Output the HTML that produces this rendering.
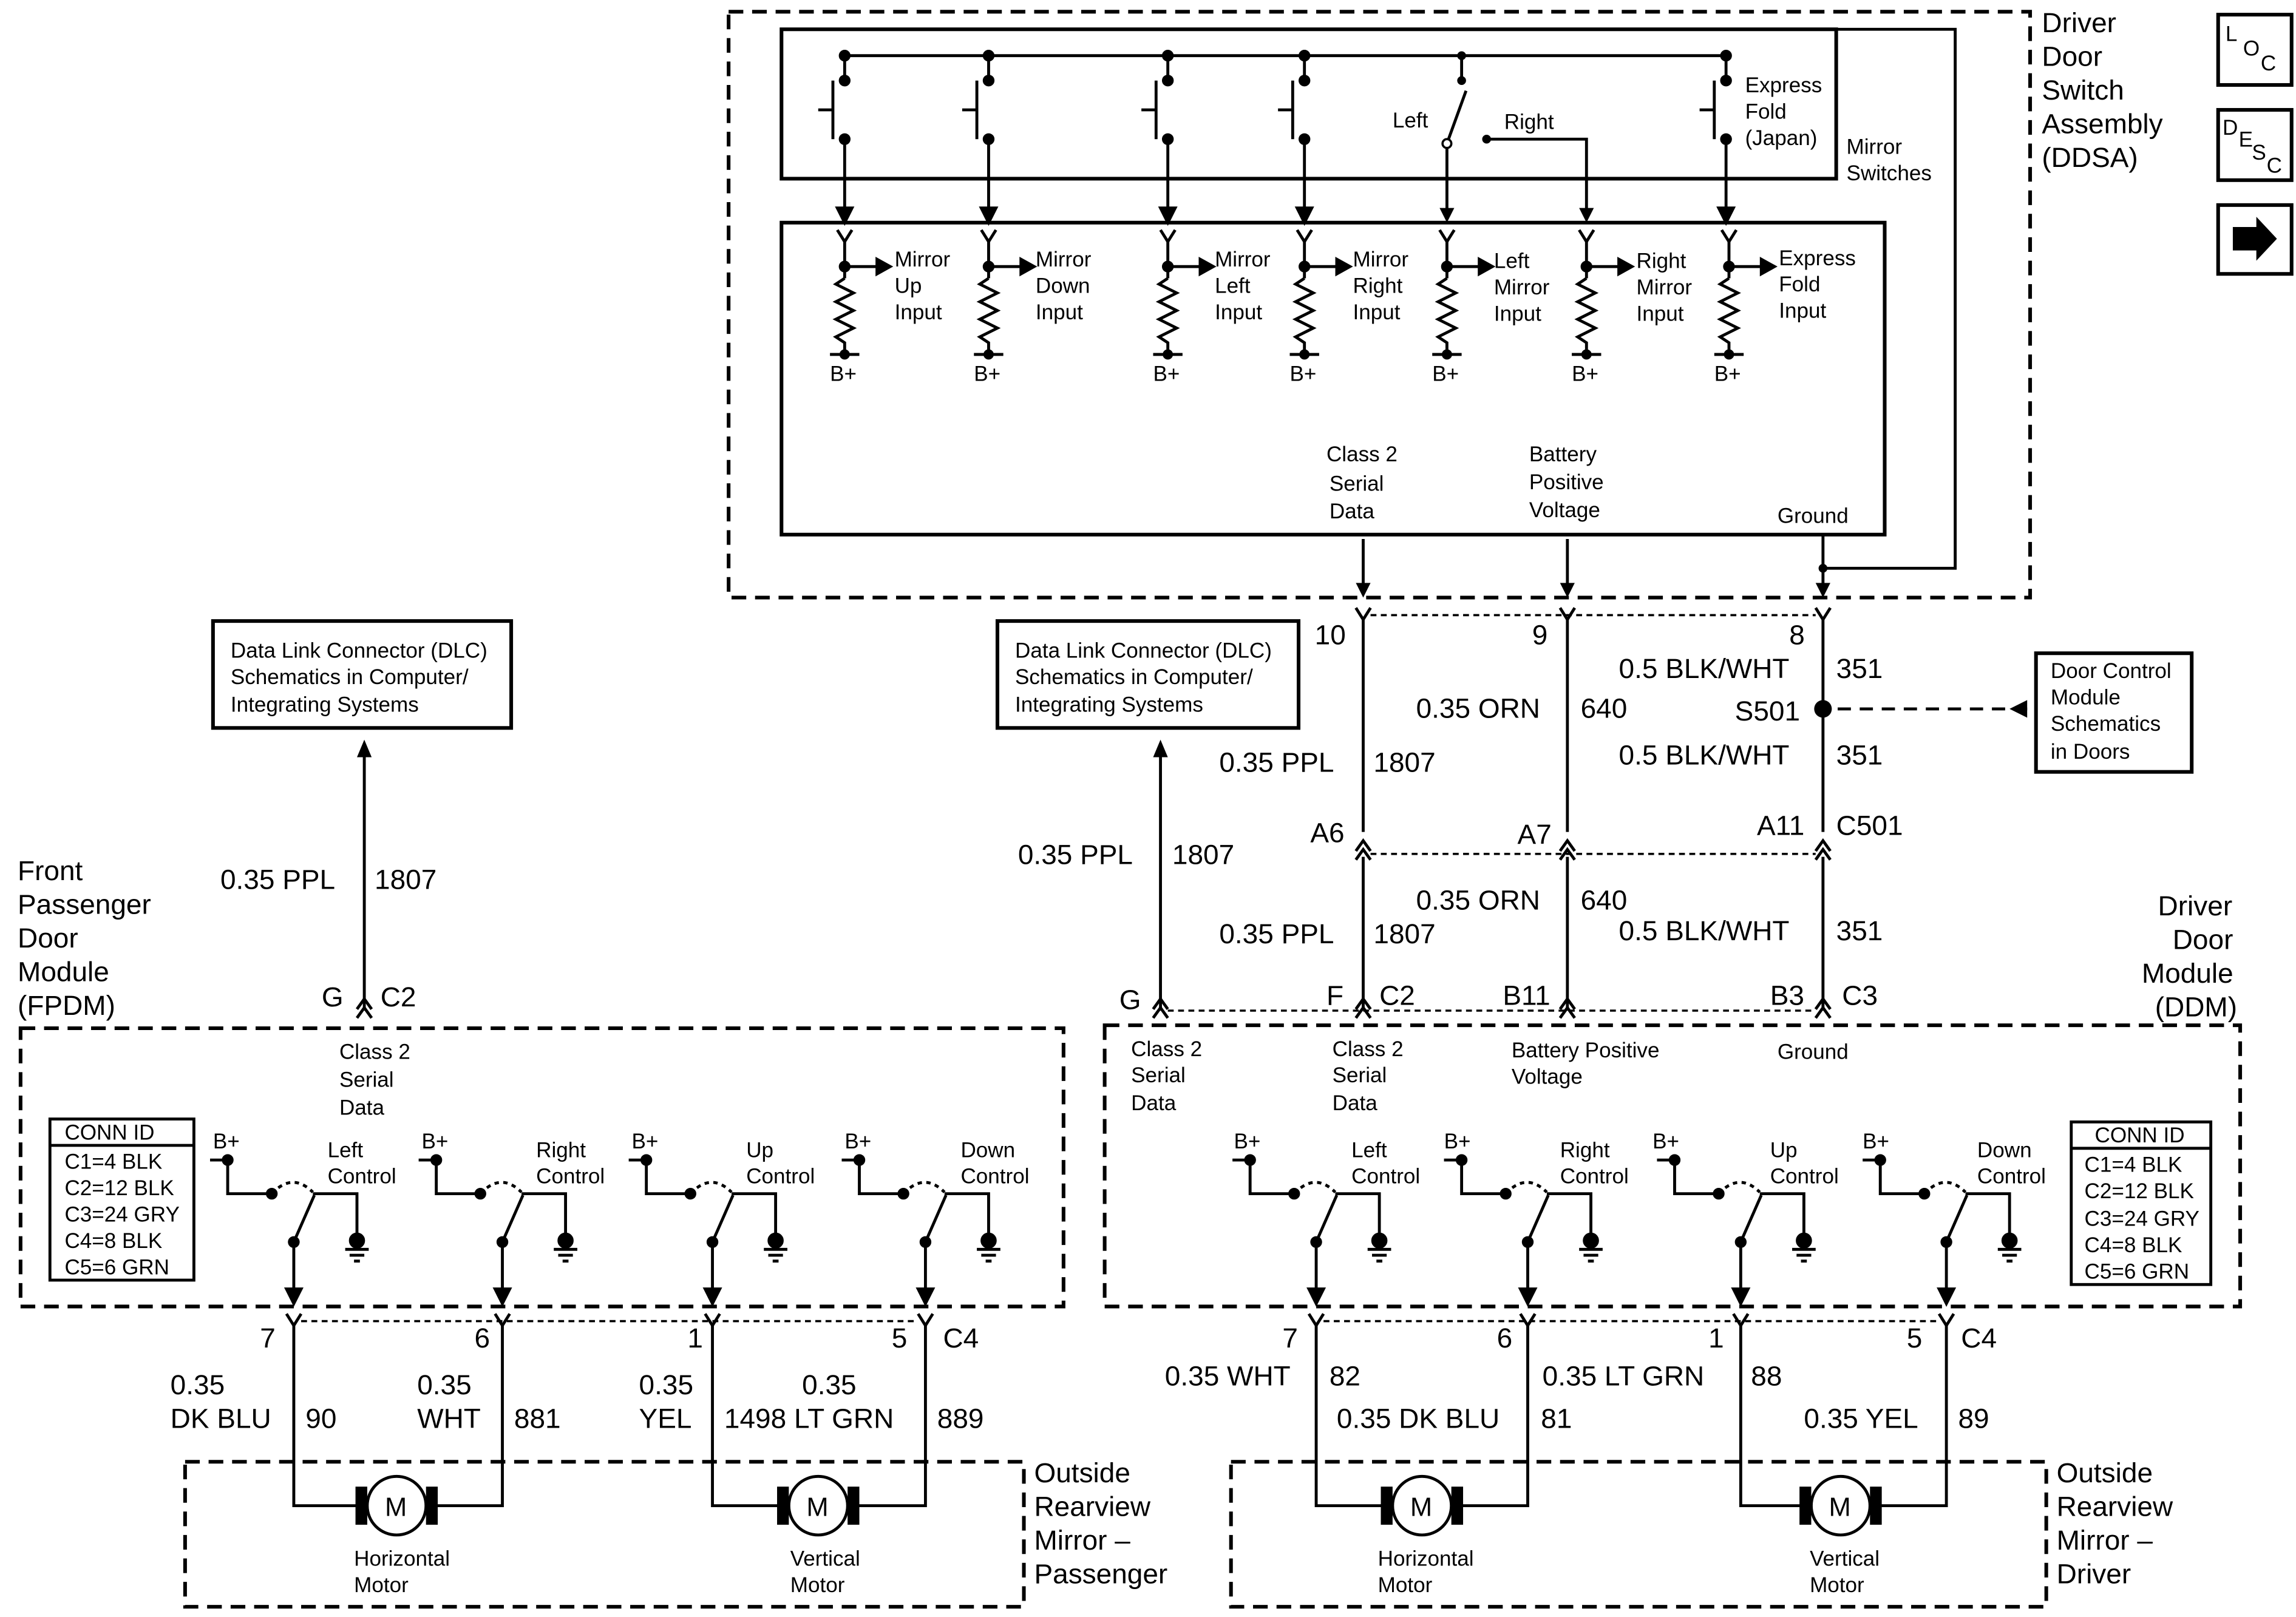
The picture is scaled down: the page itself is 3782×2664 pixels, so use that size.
<!DOCTYPE html>
<html><head><meta charset="utf-8"><style>
html,body{margin:0;padding:0;background:#fff}
svg{display:block}
text{font-family:"Liberation Sans",Arial,sans-serif;fill:#000}
.b{font-size:19px}.s{font-size:14.5px}
</style></head><body>
<svg width="3782" height="2664" viewBox="0 0 1563 1104" preserveAspectRatio="none" xmlns="http://www.w3.org/2000/svg">
<defs>
<g id="res" stroke="#000" stroke-width="2" fill="none">
<polyline points="-5,157 0,165 5,157"/>
<line x1="0" y1="165" x2="0" y2="190"/>
<circle cx="0" cy="182" r="3" fill="#000"/>
<line x1="0" y1="182" x2="24" y2="182"/>
<polygon points="22,177 31,182 22,187" fill="#000"/>
<polyline points="0,190 -6,194 6,200 -6,206 6,212 -6,218 6,224 -6,230 0,234 0,242"/>
<line x1="-10" y1="242" x2="10" y2="242"/>
<circle cx="0" cy="242" r="2.5" fill="#000"/>
</g>
<g id="ctl" stroke="#000" stroke-width="2" fill="none">
<circle cx="0" cy="0" r="3" fill="#000"/>
<polyline points="-12,0 0,0 0,23 30,23"/>
<circle cx="30" cy="23" r="3" fill="#000"/>
<path d="M30,23 Q44,8 58,22" stroke-dasharray="3,3"/>
<line x1="45" y1="56" x2="59" y2="24"/>
<circle cx="45" cy="56" r="3" fill="#000"/>
<polyline points="58,23 88,23 88,55"/>
<circle cx="88" cy="55" r="4.5" fill="#000"/>
<line x1="80" y1="61" x2="96" y2="61"/>
<line x1="83" y1="65" x2="93" y2="65"/>
<line x1="86" y1="69" x2="90" y2="69"/>
<line x1="45" y1="56" x2="45" y2="92"/>
<polygon points="40,88 45,98 50,88" fill="#000"/>
</g>
<g id="sw" stroke="#000" stroke-width="2" fill="none">
<line x1="0" y1="38" x2="0" y2="55"/>
<circle cx="0" cy="38" r="3" fill="#000"/>
<circle cx="0" cy="55" r="3" fill="#000"/>
<line x1="-8" y1="55" x2="-8" y2="95"/>
<line x1="-8" y1="75" x2="-18" y2="75"/>
<circle cx="0" cy="95" r="3" fill="#000"/>
<line x1="0" y1="95" x2="0" y2="146"/>
<polygon points="-5,142 0,152 5,142" fill="#000"/>
</g>
<g id="mot" stroke="#000" stroke-width="2">
<rect x="-27" y="-12" width="6" height="24" fill="#000"/>
<rect x="21" y="-12" width="6" height="24" fill="#000"/>
<circle cx="0" cy="0" r="20" fill="#fff"/>
</g>
<g id="yc" stroke="#000" stroke-width="2" fill="none"><polyline points="-5,-5 0,3 5,-5"/></g>
<g id="ch" stroke="#000" stroke-width="2" fill="none"><polyline points="-5,4 0,-3 5,4"/><polyline points="-5,10 0,3 5,10"/></g>
</defs>
<g stroke="#000" stroke-width="2.5" fill="none">
<rect x="496" y="8" width="886" height="400" stroke-dasharray="10,6"/>
<rect x="532" y="20" width="718" height="102"/>
<rect x="532" y="152" width="751" height="213"/>
<polyline points="1241,388 1331,388 1331,20 1250,20" stroke-width="2"/>
<line x1="575" y1="38" x2="1175" y2="38" stroke-width="2"/>
<rect x="145" y="424" width="203" height="73"/>
<rect x="679" y="424" width="205" height="73"/>
<rect x="1386" y="446" width="106" height="81"/>
<rect x="14" y="702" width="710" height="190" stroke-dasharray="10,6"/>
<rect x="752" y="700" width="773" height="192" stroke-dasharray="10,6"/>
<rect x="126" y="998" width="571" height="99" stroke-dasharray="10,6"/>
<rect x="838" y="998" width="555" height="99" stroke-dasharray="10,6"/>
<rect x="34" y="764" width="98" height="110" stroke-width="2"/>
<line x1="34" y1="782" x2="132" y2="782" stroke-width="2"/>
<rect x="1410" y="766" width="95" height="111" stroke-width="2"/>
<line x1="1410" y1="784" x2="1505" y2="784" stroke-width="2"/>
<rect x="1510" y="10" width="50" height="48"/>
<rect x="1510" y="75" width="50" height="48"/>
<rect x="1510" y="140" width="50" height="47"/>
</g>
<polygon points="1520,155 1536,155 1536,148 1550,163 1536,178 1536,171 1520,171" fill="#000"/>
<text class="s" x="1515" y="28">L</text><text class="s" x="1527" y="38">O</text><text class="s" x="1539" y="48">C</text>
<text class="s" x="1513" y="92">D</text><text class="s" x="1524" y="100">E</text><text class="s" x="1533" y="109">S</text><text class="s" x="1543" y="118">C</text>
<!-- switches -->
<use href="#sw" x="575"/><use href="#sw" x="673"/><use href="#sw" x="795"/><use href="#sw" x="888"/><use href="#sw" x="1175"/>
<g stroke="#000" stroke-width="2" fill="none">
<line x1="995" y1="38" x2="995" y2="55"/>
<line x1="985" y1="98" x2="998" y2="62"/>
<polyline points="1012,95 1080,95 1080,146"/>
<line x1="985" y1="98" x2="985" y2="146"/>
<line x1="928" y1="368" x2="928" y2="402"/><line x1="1067" y1="368" x2="1067" y2="402"/><line x1="1241" y1="365" x2="1241" y2="402"/>
<line x1="928" y1="423" x2="928" y2="568"/><line x1="1067" y1="423" x2="1067" y2="568"/><line x1="1241" y1="423" x2="1241" y2="568"/>
<line x1="928" y1="585" x2="928" y2="690"/><line x1="1067" y1="585" x2="1067" y2="690"/><line x1="1241" y1="585" x2="1241" y2="690"/>
<line x1="933" y1="420" x2="1236" y2="420" stroke-dasharray="4,3" stroke-width="1.5"/>
<line x1="933" y1="583" x2="1236" y2="583" stroke-dasharray="4,3" stroke-width="1.5"/>
<line x1="795" y1="690" x2="1236" y2="690" stroke-dasharray="4,3" stroke-width="1.5"/>
<line x1="1380" y1="484" x2="1250" y2="484" stroke-dasharray="9,6"/>
<line x1="248" y1="515" x2="248" y2="690"/><line x1="790" y1="515" x2="790" y2="690"/>
<line x1="205" y1="902" x2="625" y2="902" stroke-dasharray="4,3" stroke-width="1.5"/>
<line x1="901" y1="902" x2="1320" y2="902" stroke-dasharray="4,3" stroke-width="1.5"/>
<polyline points="200,905 200,1028 248,1028"/><polyline points="342,905 342,1028 292,1028"/>
<polyline points="485,905 485,1028 535,1028"/><polyline points="630,905 630,1028 580,1028"/>
<polyline points="896,905 896,1028 946,1028"/><polyline points="1040,905 1040,1028 990,1028"/>
<polyline points="1185,905 1185,1028 1231,1028"/><polyline points="1325,905 1325,1028 1275,1028"/>
</g>
<circle cx="995" cy="38" r="3"/><circle cx="995" cy="55" r="3"/><circle cx="985" cy="98" r="3" fill="#fff" stroke="#000" stroke-width="1.5"/><circle cx="1012" cy="95" r="3"/>
<polygon points="980,142 985,152 990,142"/><polygon points="1075,142 1080,152 1085,142"/>
<polygon points="923,398 928,408 933,398"/><polygon points="1062,398 1067,408 1072,398"/><polygon points="1236,398 1241,408 1246,398"/>
<circle cx="1241" cy="388" r="3"/><circle cx="1241" cy="484" r="6"/>
<polygon points="1380,478 1368,484 1380,490"/>
<polygon points="243,517 248,505 253,517"/><polygon points="785,517 790,505 795,517"/>
<use href="#yc" x="928" y="420"/><use href="#yc" x="1067" y="420"/><use href="#yc" x="1241" y="420"/>
<use href="#ch" x="928" y="577"/><use href="#ch" x="1067" y="577"/><use href="#ch" x="1241" y="577"/>
<use href="#ch" x="248" y="685"/><use href="#ch" x="790" y="685"/><use href="#ch" x="928" y="685"/><use href="#ch" x="1067" y="685"/><use href="#ch" x="1241" y="685"/>
<use href="#yc" x="200" y="902"/><use href="#yc" x="342" y="902"/><use href="#yc" x="485" y="902"/><use href="#yc" x="630" y="902"/>
<use href="#yc" x="896" y="902"/><use href="#yc" x="1040" y="902"/><use href="#yc" x="1185" y="902"/><use href="#yc" x="1325" y="902"/>
<!-- resistors -->
<use href="#res" x="575"/><use href="#res" x="673"/><use href="#res" x="795"/><use href="#res" x="888"/><use href="#res" x="985"/><use href="#res" x="1080"/><use href="#res" x="1177"/>
<g class="s">
<text x="565" y="260">B+</text><text x="663" y="260">B+</text><text x="785" y="260">B+</text><text x="878" y="260">B+</text><text x="975" y="260">B+</text><text x="1070" y="260">B+</text><text x="1167" y="260">B+</text>
<text x="609" y="182">Mirror</text><text x="609" y="200">Up</text><text x="609" y="218">Input</text>
<text x="705" y="182">Mirror</text><text x="705" y="200">Down</text><text x="705" y="218">Input</text>
<text x="827" y="182">Mirror</text><text x="827" y="200">Left</text><text x="827" y="218">Input</text>
<text x="921" y="182">Mirror</text><text x="921" y="200">Right</text><text x="921" y="218">Input</text>
<text x="1017" y="183">Left</text><text x="1017" y="201">Mirror</text><text x="1017" y="219">Input</text>
<text x="1114" y="183">Right</text><text x="1114" y="201">Mirror</text><text x="1114" y="219">Input</text>
<text x="1211" y="181">Express</text><text x="1211" y="199">Fold</text><text x="1211" y="217">Input</text>
<text x="1188" y="63">Express</text><text x="1188" y="81">Fold</text><text x="1188" y="99">(Japan)</text>
<text x="948" y="87">Left</text><text x="1024" y="88">Right</text>
<text x="1257" y="105">Mirror</text><text x="1257" y="123">Switches</text>
<text x="903" y="315">Class 2</text><text x="905" y="335">Serial</text><text x="905" y="354">Data</text>
<text x="1041" y="315">Battery</text><text x="1041" y="334">Positive</text><text x="1041" y="353">Voltage</text>
<text x="1210" y="357">Ground</text>
<text x="157" y="449">Data Link Connector (DLC)</text><text x="157" y="467">Schematics in Computer/</text><text x="157" y="486">Integrating Systems</text>
<text x="691" y="449">Data Link Connector (DLC)</text><text x="691" y="467">Schematics in Computer/</text><text x="691" y="486">Integrating Systems</text>
<text x="1396" y="463">Door Control</text><text x="1396" y="481">Module</text><text x="1396" y="499">Schematics</text><text x="1396" y="518">in Doors</text>
<text x="231" y="723">Class 2</text><text x="231" y="742">Serial</text><text x="231" y="761">Data</text>
<text x="770" y="721">Class 2</text><text x="770" y="739">Serial</text><text x="770" y="758">Data</text>
<text x="907" y="721">Class 2</text><text x="907" y="739">Serial</text><text x="907" y="758">Data</text>
<text x="1029" y="722">Battery Positive</text><text x="1029" y="740">Voltage</text>
<text x="1210" y="723">Ground</text>
<text x="44" y="778">CONN ID</text>
<text x="44" y="798">C1=4 BLK</text><text x="44" y="816">C2=12 BLK</text><text x="44" y="834">C3=24 GRY</text><text x="44" y="852">C4=8 BLK</text><text x="44" y="870">C5=6 GRN</text>
<text x="1426" y="780">CONN ID</text>
<text x="1419" y="800">C1=4 BLK</text><text x="1419" y="818">C2=12 BLK</text><text x="1419" y="837">C3=24 GRY</text><text x="1419" y="855">C4=8 BLK</text><text x="1419" y="873">C5=6 GRN</text>
<text x="145" y="784">B+</text><text x="287" y="784">B+</text><text x="430" y="784">B+</text><text x="575" y="784">B+</text>
<text x="840" y="784">B+</text><text x="983" y="784">B+</text><text x="1125" y="784">B+</text><text x="1268" y="784">B+</text>
<text x="223" y="790">Left</text><text x="223" y="808">Control</text>
<text x="365" y="790">Right</text><text x="365" y="808">Control</text>
<text x="508" y="790">Up</text><text x="508" y="808">Control</text>
<text x="654" y="790">Down</text><text x="654" y="808">Control</text>
<text x="920" y="790">Left</text><text x="920" y="808">Control</text>
<text x="1062" y="790">Right</text><text x="1062" y="808">Control</text>
<text x="1205" y="790">Up</text><text x="1205" y="808">Control</text>
<text x="1346" y="790">Down</text><text x="1346" y="808">Control</text>
<text x="241" y="1069">Horizontal</text><text x="241" y="1087">Motor</text>
<text x="538" y="1069">Vertical</text><text x="538" y="1087">Motor</text>
<text x="938" y="1069">Horizontal</text><text x="938" y="1087">Motor</text>
<text x="1232" y="1069">Vertical</text><text x="1232" y="1087">Motor</text>
</g>
<use href="#ctl" x="155" y="792"/><use href="#ctl" x="297" y="792"/><use href="#ctl" x="440" y="792"/><use href="#ctl" x="585" y="792"/>
<use href="#ctl" x="851" y="792"/><use href="#ctl" x="995" y="792"/><use href="#ctl" x="1140" y="792"/><use href="#ctl" x="1280" y="792"/>
<use href="#mot" x="270" y="1028"/><use href="#mot" x="557" y="1028"/><use href="#mot" x="968" y="1028"/><use href="#mot" x="1253" y="1028"/>
<g class="b" style="font-size:18px"><text x="262" y="1035">M</text><text x="549" y="1035">M</text><text x="960" y="1035">M</text><text x="1245" y="1035">M</text></g>
<g class="b">
<text x="1390" y="22">Driver</text><text x="1390" y="45">Door</text><text x="1390" y="68">Switch</text><text x="1390" y="91">Assembly</text><text x="1390" y="114">(DDSA)</text>
<text x="895" y="440">10</text><text x="1043" y="440">9</text><text x="1218" y="440">8</text>
<text x="1102" y="463">0.5 BLK/WHT</text><text x="1250" y="463">351</text>
<text x="964" y="490">0.35 ORN</text><text x="1076" y="490">640</text><text x="1181" y="492">S501</text>
<text x="1102" y="522">0.5 BLK/WHT</text><text x="1250" y="522">351</text>
<text x="830" y="527">0.35 PPL</text><text x="935" y="527">1807</text>
<text x="892" y="575">A6</text><text x="1033" y="576">A7</text><text x="1196" y="570">A11</text><text x="1250" y="570">C501</text>
<text x="693" y="590">0.35 PPL</text><text x="798" y="590">1807</text>
<text x="964" y="621">0.35 ORN</text><text x="1076" y="621">640</text>
<text x="830" y="644">0.35 PPL</text><text x="935" y="644">1807</text>
<text x="1102" y="642">0.5 BLK/WHT</text><text x="1250" y="642">351</text>
<text x="150" y="607">0.35 PPL</text><text x="255" y="607">1807</text>
<text x="12" y="601">Front</text><text x="12" y="624">Passenger</text><text x="12" y="647">Door</text><text x="12" y="670">Module</text><text x="12" y="693">(FPDM)</text>
<text x="219" y="687">G</text><text x="259" y="687">C2</text>
<text x="762" y="689">G</text><text x="903" y="686">F</text><text x="939" y="686">C2</text><text x="1023" y="686">B11</text><text x="1205" y="686">B3</text><text x="1254" y="686">C3</text>
<text x="1469" y="625">Driver</text><text x="1479" y="648">Door</text><text x="1458" y="671">Module</text><text x="1467" y="694">(DDM)</text>
<text x="177" y="920">7</text><text x="323" y="920">6</text><text x="468" y="920">1</text><text x="607" y="920">5</text><text x="642" y="920">C4</text>
<text x="873" y="920">7</text><text x="1019" y="920">6</text><text x="1163" y="920">1</text><text x="1298" y="920">5</text><text x="1335" y="920">C4</text>
<text x="116" y="952">0.35</text><text x="116" y="975">DK BLU</text><text x="208" y="975">90</text>
<text x="284" y="952">0.35</text><text x="284" y="975">WHT</text><text x="350" y="975">881</text>
<text x="435" y="952">0.35</text><text x="435" y="975">YEL</text><text x="493" y="975">1498 LT GRN</text>
<text x="546" y="952">0.35</text><text x="638" y="975">889</text>
<text x="793" y="946">0.35 WHT</text><text x="905" y="946">82</text>
<text x="910" y="975">0.35 DK BLU</text><text x="1049" y="975">81</text>
<text x="1050" y="946">0.35 LT GRN</text><text x="1192" y="946">88</text>
<text x="1228" y="975">0.35 YEL</text><text x="1333" y="975">89</text>
<text x="704" y="1012">Outside</text><text x="704" y="1035">Rearview</text><text x="704" y="1058">Mirror –</text><text x="704" y="1081">Passenger</text>
<text x="1400" y="1012">Outside</text><text x="1400" y="1035">Rearview</text><text x="1400" y="1058">Mirror –</text><text x="1400" y="1081">Driver</text>
</g>
</svg>
</body></html>
